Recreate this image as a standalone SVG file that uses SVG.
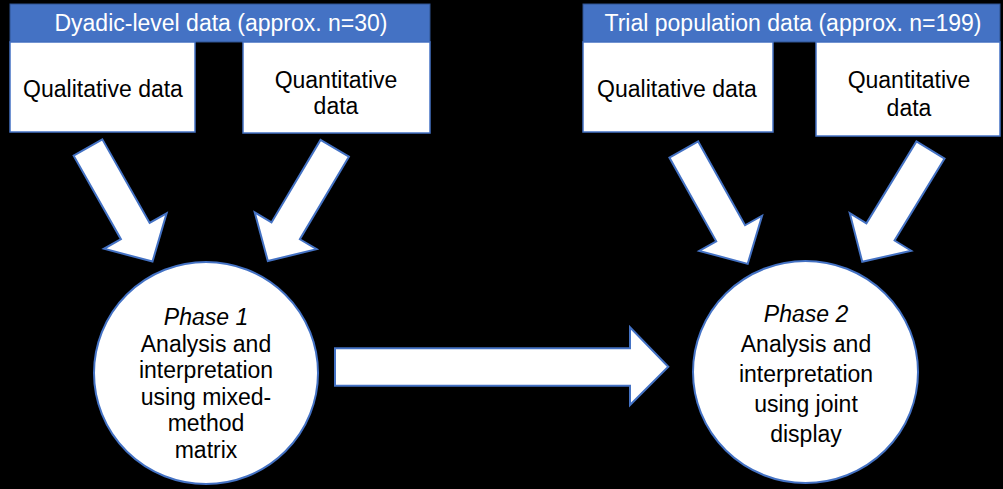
<svg xmlns="http://www.w3.org/2000/svg" width="1003" height="489" viewBox="0 0 1003 489">
  <style>
    .hdr { fill: #4472C4; stroke: #2F528F; stroke-width: 1; }
    .box { fill: #FFFFFF; stroke: #4472C4; stroke-width: 1.5; }
    .phase { fill: #FFFFFF; stroke: #4472C4; stroke-width: 2; }
    .arrow { fill: #FFFFFF; stroke: #4472C4; stroke-width: 2; stroke-linejoin: miter; }
    text { font-family: "Liberation Sans", Arial, sans-serif; font-size: 23px; text-anchor: middle; }
    .hdr-t { fill: #FFFFFF; }
    .body-t { fill: #000000; }
    .it { font-style: italic; }
  </style>
  <defs>
    <!-- block arrow pointing along +x, tail centred on the origin -->
    <path id="blockArrow" class="arrow" d="M0,-16.5 L96,-16.5 L96,-36 L131,0 L96,36 L96,16.5 L0,16.5 Z"/>
  </defs>

  <rect x="0" y="0" width="1003" height="489" fill="#000000"/>

  <!-- left data group -->
  <g id="dyadic-header">
    <rect class="hdr" x="10" y="4" width="420" height="38"/>
    <text class="hdr-t" x="221" y="31">Dyadic-level data (approx. n=30)</text>
  </g>
  <g id="dyadic-qual">
    <rect class="box" x="10" y="42" width="185" height="90"/>
    <text class="body-t" x="103" y="97">Qualitative data</text>
  </g>
  <g id="dyadic-quant">
    <rect class="box" x="243" y="42" width="187" height="91"/>
    <text class="body-t" x="336" y="88">Quantitative</text>
    <text class="body-t" x="336" y="114">data</text>
  </g>

  <!-- right data group -->
  <g id="trial-header">
    <rect class="hdr" x="583" y="4" width="417" height="38"/>
    <text class="hdr-t" x="793" y="31">Trial population data (approx. n=199)</text>
  </g>
  <g id="trial-qual">
    <rect class="box" x="583" y="42" width="190" height="90"/>
    <text class="body-t" x="677" y="97">Qualitative data</text>
  </g>
  <g id="trial-quant">
    <rect class="box" x="816" y="42" width="184" height="94"/>
    <text class="body-t" x="909" y="88">Quantitative</text>
    <text class="body-t" x="909" y="116">data</text>
  </g>

  <!-- analysis phases -->
  <g id="phase1">
    <ellipse class="phase" cx="206" cy="373" rx="112" ry="111"/>
    <text class="body-t it" x="206" y="325">Phase 1</text>
    <text class="body-t" x="206" y="352">Analysis and</text>
    <text class="body-t" x="206" y="378">interpretation</text>
    <text class="body-t" x="206" y="405">using mixed-</text>
    <text class="body-t" x="206" y="431">method</text>
    <text class="body-t" x="206" y="458">matrix</text>
  </g>
  <g id="phase2">
    <ellipse class="phase" cx="805.5" cy="372" rx="112.5" ry="111"/>
    <text class="body-t it" x="806" y="322">Phase 2</text>
    <text class="body-t" x="806" y="352">Analysis and</text>
    <text class="body-t" x="806" y="382">interpretation</text>
    <text class="body-t" x="806" y="412">using joint</text>
    <text class="body-t" x="806" y="442">display</text>
  </g>

  <!-- block arrows -->
  <g id="connectors">
    <use href="#blockArrow" transform="translate(88,147.5) rotate(60.5)"/>
    <use href="#blockArrow" transform="translate(334.7,148.3) rotate(120.7)"/>
    <use href="#blockArrow" transform="translate(683.8,149.5) rotate(60.8)"/>
    <use href="#blockArrow" transform="translate(930.5,150) rotate(121.4)"/>
    <path class="arrow" d="M335,348.3 L630,348.3 L630,327.3 L668.3,366.7 L630,405 L630,385.7 L335,385.7 Z"/>
  </g>
</svg>
